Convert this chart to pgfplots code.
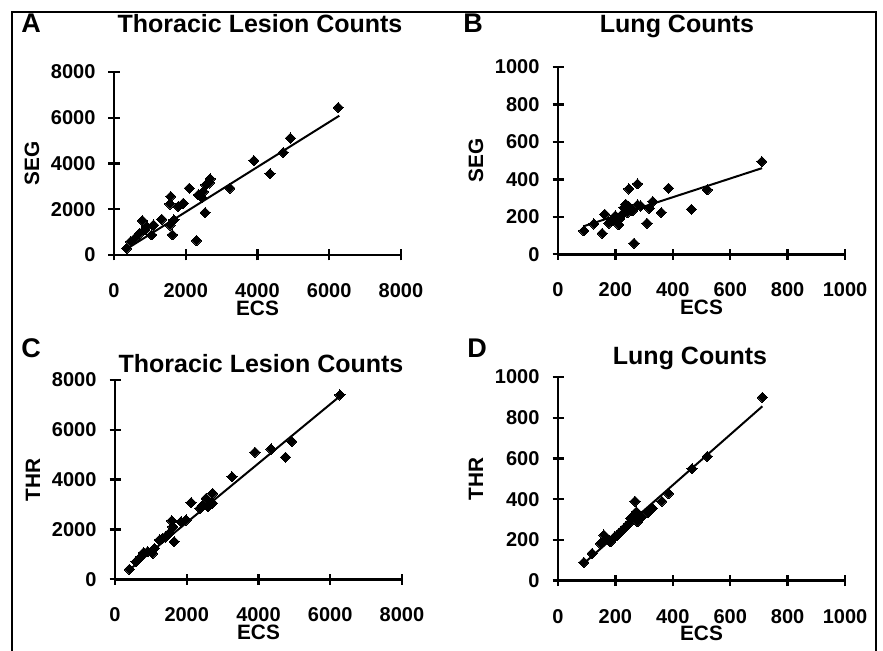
\documentclass[border=0pt]{standalone}
\usepackage{fontspec}
\setmainfont{Liberation Sans}
\usepackage{pgfplots}
\pgfplotsset{compat=1.18}
\pgfplotsset{
  panel/.style={
    scale only axis,
    anchor=south west,
    width=143.5pt,
    axis x line=bottom, axis y line=left,
    axis line style={-, line width=1.4pt},
    every tick/.style={line width=1.2pt, black},
    tick align=center, major tick length=5.5pt,
    /pgf/number format/assume math mode=true,
    /pgf/number format/set thousands separator={},
    tick label style={font=\fontsize{10}{12}\selectfont\bfseries},
    x tick label style={anchor=north, yshift=-8pt},
    y tick label style={anchor=east, xshift=-3pt},
    every axis x label/.style={at={(axis description cs:0.5,0)},anchor=center,yshift=-26.5pt,font=\fontsize{10.4}{12}\selectfont\bfseries},
    every axis y label/.style={at={([xshift=-41pt]axis description cs:0,0.5)},rotate=90,anchor=center,font=\fontsize{10.4}{12}\selectfont\bfseries},
    clip=false,
  },
  pts/.style={only marks, mark=square*, mark options={rotate=45, fill=black, draw=black, line width=0pt}, mark size=1.8pt},
  fit/.style={no marks, black, line width=1pt},
}
\begin{document}
\begin{tikzpicture}
\useasboundingbox (0pt,0pt) rectangle (441.5pt,325.5pt);
\fill[white] (0pt,0pt) rectangle (441.5pt,325.5pt);
\draw[line width=1pt] (6pt,-2pt) -- (6pt,319.5pt) -- (438pt,319.5pt) -- (438pt,-2pt);
% Panel letters and titles
\tikzset{ttl/.style={font=\fontsize{12.5}{14}\selectfont\bfseries, anchor=base}}
\tikzset{ltr/.style={font=\fontsize{13.5}{15}\selectfont\bfseries, anchor=base}}
\node[ltr] at (15.5pt,309pt) {A};
\node[ttl] at (130pt,309pt) {Thoracic Lesion Counts};
\node[ltr] at (236.5pt,309pt) {B};
\node[ttl] at (338.5pt,309pt) {Lung Counts};
\node[ltr] at (15.5pt,146.5pt) {C};
\node[ttl] at (130.5pt,139pt) {Thoracic Lesion Counts};
\node[ltr] at (238.5pt,146.5pt) {D};
\node[ttl] at (345pt,143pt) {Lung Counts};

% Panel A
\begin{axis}[panel, at={(57pt,198pt)}, height=91.5pt,
  xmin=0, xmax=8000, ymin=0, ymax=8000,
  xtick={0,2000,4000,6000,8000}, ytick={0,2000,4000,6000,8000},
  xlabel={ECS}, ylabel={SEG}]
\addplot[pts] coordinates {(6250,6450) (4920,5110) (4720,4480) (4350,3550) (3900,4130) (3230,2920) (2680,3330) (2560,3070) (2490,2770) (2350,2630) (2540,1850) (2300,630) (2100,2920) (1930,2260) (1790,2120) (1580,2560) (1560,2230) (1670,1530) (1630,880) (1560,1310) (1330,1560) (1100,1310) (1050,880) (790,1500) (860,1100) (720,950) (585,730) (465,585) (350,290) (910,1240) (2650,3150) (2450,2500)};
\addplot[fit] coordinates {(307,219) (6280,6088)};
\end{axis}

% Panel B
\begin{axis}[panel, at={(279pt,198.35pt)}, height=93.65pt,
  xmin=0, xmax=1000, ymin=0, ymax=1000,
  xtick={0,200,400,600,800,1000}, ytick={0,200,400,600,800,1000},
  xlabel={ECS}, ylabel={SEG}]
\addplot[pts] coordinates {(710,495) (520,345) (465,240) (385,353) (360,223) (330,282) (318,246) (310,166) (277,376) (247,349) (277,264) (265,59) (247,255) (230,250) (224,214) (212,157) (195,192) (177,166) (163,214) (154,112) (125,162) (90,125) (259,232) (242,223) (200,205) (236,267) (288,258) (215,190) (185,180)};
\addplot[fit] coordinates {(90,150) (711,460)};
\end{axis}

% Panel C
\begin{axis}[panel, at={(57.5pt,35.85pt)}, height=99.65pt,
  xmin=0, xmax=8000, ymin=0, ymax=8000,
  xtick={0,2000,4000,6000,8000}, ytick={0,2000,4000,6000,8000},
  xlabel={ECS}, ylabel={THR}]
\addplot[pts] coordinates {(6270,7400) (4930,5530) (4750,4900) (4350,5230) (3900,5100) (3260,4120) (2720,3450) (2720,3050) (2540,3250) (2590,2920) (2370,2850) (2120,3080) (1980,2380) (1840,2310) (1580,2350) (1610,2110) (1650,1510) (1510,1850) (1330,1650) (1240,1580) (1050,1040) (1100,1240) (800,1070) (910,1110) (680,840) (585,710) (400,400) (2450,2980) (1400,1700)};
\addplot[fit] coordinates {(400,380) (6270,7350)};
\end{axis}

% Panel D
\begin{axis}[panel, at={(279pt,35.15pt)}, height=101.85pt,
  xmin=0, xmax=1000, ymin=0, ymax=1000,
  xtick={0,200,400,600,800,1000}, ytick={0,200,400,600,800,1000},
  xlabel={ECS}, ylabel={THR}]
\addplot[pts] coordinates {(712,900) (520,610) (467,550) (385,428) (362,390) (329,355) (312,333) (268,390) (273,338) (277,289) (253,306) (247,281) (236,265) (212,232) (198,216) (183,191) (160,224) (148,183) (168,208) (119,134) (90,90) (224,248) (259,315) (177,199) (290,310) (205,220)};
\addplot[fit] coordinates {(90,85) (712,856)};
\end{axis}
\end{tikzpicture}
\end{document}
